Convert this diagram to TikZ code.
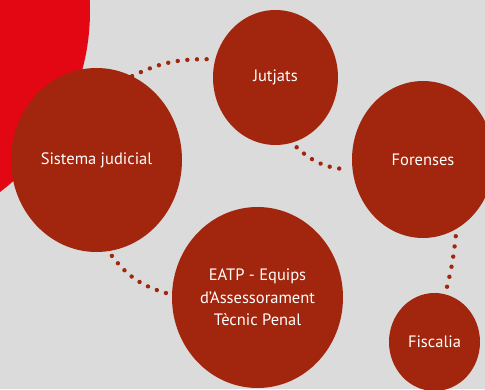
\documentclass[tikz,border=0pt]{standalone}
\usepackage{fontspec}
\setmainfont{PT Sans}
\usetikzlibrary{shapes.geometric, calc, decorations.markings}
\definecolor{bgGrey}{RGB}{219,219,219}
\definecolor{brickRed}{RGB}{161,38,13}
\definecolor{signalRed}{RGB}{227,7,20}
\tikzset{
  bubble/.style={ellipse, fill=brickRed, inner sep=0pt, text=white, align=center,
    font=\fontsize{16.5}{22.5}\selectfont},
  dotlink/.style={decoration={markings,
      mark=between positions 0 and 1.001 step #1 with {\fill[brickRed] (0,0) circle (2.2pt);}},
    decorate},
}

\begin{document}
\begin{tikzpicture}[x=1pt, y=1pt]
  \useasboundingbox (0,0) rectangle (485,389);
  \fill[bgGrey] (0,0) rectangle (485,389);
  \begin{scope}
    \clip (0,0) rectangle (485,389);
    \fill[signalRed] (-137,378) circle (227);
    \node[bubble, minimum width=171pt, minimum height=184pt] (sis) at (96.5,229) {Sistema judicial};
    \node[bubble, minimum width=125pt, minimum height=135pt] (jut) at (275.5,311.5) {Jutjats};
    \node[bubble, minimum width=142pt, minimum height=157pt] (for) at (423,229.5) {Forenses};
    \node[bubble, minimum width=171pt, minimum height=181pt] (eatp) at (257.5,91.5) {EATP - Equips\\d’Assessorament\\Tècnic Penal};
    \node[bubble, minimum width=91pt, minimum height=98pt] (fis) at (434.5,47) {Fiscalia};
  \end{scope}
  % dotted links
  \path[dotlink=0.125] (sis.67) to[bend left=13] ($(jut.165)+(-8,2)$);
  \path[dotlink=0.16667] ($(jut.-73)+(1.5,-5.5)$) to[bend right=20] ($(for.188)+(-3.5,0)$);
  \path[dotlink=0.2] ($(for.-67)+(2.5,-5.5)$) to[bend left=4] ($(fis.77)+(1.5,7.5)$);
  \path[dotlink=0.142857] ($(sis.-81)+(1,-5)$) to[bend right=18] ($(eatp.177)+(-6,0)$);
\end{tikzpicture}
\end{document}
